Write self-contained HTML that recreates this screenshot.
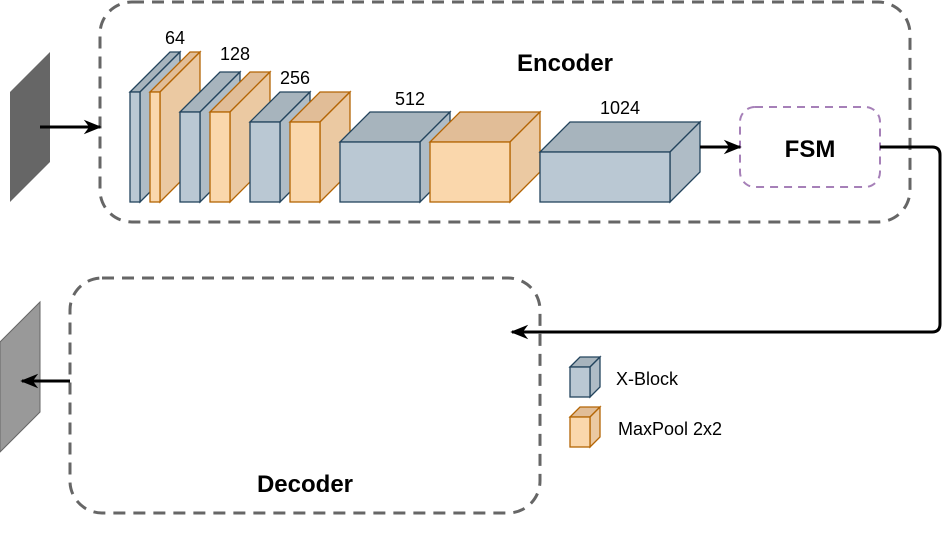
<!DOCTYPE html>
<html><head><meta charset="utf-8"><style>html,body{margin:0;padding:0;background:#fff}svg{display:block}</style></head>
<body>
<svg width="951" height="533" viewBox="0 0 951 533" xmlns="http://www.w3.org/2000/svg" font-family="Liberation Sans, sans-serif">
<defs>
<marker id="ah" viewBox="0 0 10 10" refX="9" refY="5" markerWidth="20" markerHeight="18" markerUnits="userSpaceOnUse" orient="auto"><path d="M0,1 L10,5 L0,9 L3,5 Z" fill="#000"/></marker>
</defs>
<rect x="100" y="2" width="810" height="220" rx="32" fill="none" stroke="#666" stroke-width="3" stroke-dasharray="12,8"/>
<rect x="70" y="278" width="470" height="235" rx="32" fill="none" stroke="#666" stroke-width="3" stroke-dasharray="12,8"/>
<rect x="740" y="107" width="140" height="80" rx="15" fill="none" stroke="#a680b8" stroke-width="2" stroke-dasharray="8,6"/>
<polygon points="10,92 50,52 50,162 10,202" fill="#666"/>
<polygon points="0,342 40,302 40,412 0,452" fill="#999" stroke="#666" stroke-width="1"/>
<g stroke="#23445d" stroke-width="1.3">
<polygon points="130,92 170,52 180,52 140,92" fill="#a7b4bd"/><polygon points="140,92 180,52 180,162 140,202" fill="#afbcc6"/><rect x="130" y="92" width="10" height="110" fill="#bac8d3"/>
</g>
<g stroke="#b46504" stroke-width="1.3">
<polygon points="150,92 190,52 200,52 160,92" fill="#e1bd97"/><polygon points="160,92 200,52 200,162 160,202" fill="#ebc9a2"/><rect x="150" y="92" width="10" height="110" fill="#fad7ac"/>
</g>
<g stroke="#23445d" stroke-width="1.3">
<polygon points="180,112 220,72 240,72 200,112" fill="#a7b4bd"/><polygon points="200,112 240,72 240,162 200,202" fill="#afbcc6"/><rect x="180" y="112" width="20" height="90" fill="#bac8d3"/>
</g>
<g stroke="#b46504" stroke-width="1.3">
<polygon points="210,112 250,72 270,72 230,112" fill="#e1bd97"/><polygon points="230,112 270,72 270,162 230,202" fill="#ebc9a2"/><rect x="210" y="112" width="20" height="90" fill="#fad7ac"/>
</g>
<g stroke="#23445d" stroke-width="1.3">
<polygon points="250,122 280,92 310,92 280,122" fill="#a7b4bd"/><polygon points="280,122 310,92 310,172 280,202" fill="#afbcc6"/><rect x="250" y="122" width="30" height="80" fill="#bac8d3"/>
</g>
<g stroke="#b46504" stroke-width="1.3">
<polygon points="290,122 320,92 350,92 320,122" fill="#e1bd97"/><polygon points="320,122 350,92 350,172 320,202" fill="#ebc9a2"/><rect x="290" y="122" width="30" height="80" fill="#fad7ac"/>
</g>
<g stroke="#23445d" stroke-width="1.3">
<polygon points="340,142 370,112 450,112 420,142" fill="#a7b4bd"/><polygon points="420,142 450,112 450,172 420,202" fill="#afbcc6"/><rect x="340" y="142" width="80" height="60" fill="#bac8d3"/>
</g>
<g stroke="#b46504" stroke-width="1.3">
<polygon points="430,142 460,112 540,112 510,142" fill="#e1bd97"/><polygon points="510,142 540,112 540,172 510,202" fill="#ebc9a2"/><rect x="430" y="142" width="80" height="60" fill="#fad7ac"/>
</g>
<g stroke="#23445d" stroke-width="1.3">
<polygon points="540,152 570,122 700,122 670,152" fill="#a7b4bd"/><polygon points="670,152 700,122 700,172 670,202" fill="#afbcc6"/><rect x="540" y="152" width="130" height="50" fill="#bac8d3"/>
<polygon points="570,367 580,357 600,357 590,367" fill="#a7b4bd"/><polygon points="590,367 600,357 600,387 590,397" fill="#afbcc6"/><rect x="570" y="367" width="20" height="30" fill="#bac8d3"/>
</g>
<g stroke="#b46504" stroke-width="1.3">
<polygon points="570,417 580,407 600,407 590,417" fill="#e1bd97"/><polygon points="590,417 600,407 600,437 590,447" fill="#ebc9a2"/><rect x="570" y="417" width="20" height="30" fill="#fad7ac"/>
</g>
<g stroke="#000" stroke-width="3" fill="none">
<line x1="40" y1="127" x2="100" y2="127" marker-end="url(#ah)"/>
<line x1="700" y1="147" x2="740" y2="147" marker-end="url(#ah)"/>
<path d="M880,147 H932 Q940,147 940,155 V324 Q940,332 932,332 H512" marker-end="url(#ah)"/>
<line x1="70" y1="381" x2="22" y2="381" marker-end="url(#ah)"/>
</g>
<g font-size="18" fill="#000" text-anchor="middle">
<text x="175" y="44">64</text>
<text x="235" y="60">128</text>
<text x="295" y="84">256</text>
<text x="410" y="105">512</text>
<text x="620" y="114">1024</text>
</g>
<g font-size="24" font-weight="bold" text-anchor="middle">
<text x="565" y="71">Encoder</text>
<text x="305" y="492">Decoder</text>
<text x="810" y="157">FSM</text>
</g>
<g font-size="18">
<text x="616" y="385">X-Block</text>
<text x="618" y="435">MaxPool 2x2</text>
</g>
</svg>
</body></html>
